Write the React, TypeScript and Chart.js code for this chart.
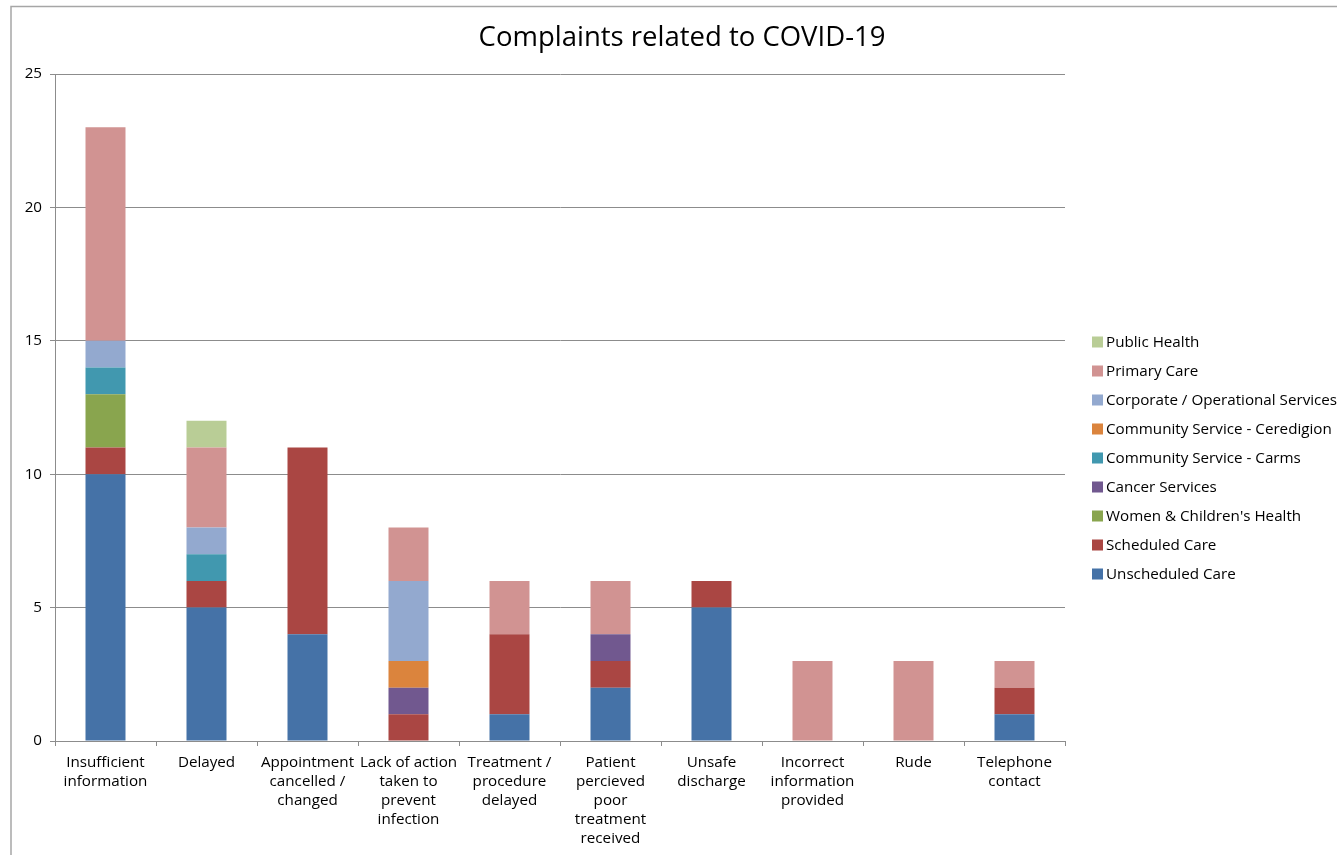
import { useEffect, useRef } from "react";
import { Chart, registerables } from "chart.js";

Chart.register(...registerables);

const categories: string[][] = [
  ["Insufficient", "information"],
  ["Delayed"],
  ["Appointment", "cancelled /", "changed"],
  ["Lack of action", "taken to", "prevent", "infection"],
  ["Treatment /", "procedure", "delayed"],
  ["Patient", "percieved", "poor", "treatment", "received"],
  ["Unsafe", "discharge"],
  ["Incorrect", "information", "provided"],
  ["Rude"],
  ["Telephone", "contact"],
];

const unscheduledCare = [10, 5, 4, 0, 1, 2, 5, 0, 0, 1];
const scheduledCare = [1, 1, 7, 1, 3, 1, 1, 0, 0, 1];
const womenChildrensHealth = [2, 0, 0, 0, 0, 0, 0, 0, 0, 0];
const cancerServices = [0, 0, 0, 1, 0, 1, 0, 0, 0, 0];
const communityCarms = [1, 1, 0, 0, 0, 0, 0, 0, 0, 0];
const communityCeredigion = [0, 0, 0, 1, 0, 0, 0, 0, 0, 0];
const corporateServices = [1, 1, 0, 3, 0, 0, 0, 0, 0, 0];
const primaryCare = [8, 3, 0, 2, 2, 2, 0, 3, 3, 1];
const publicHealth = [0, 1, 0, 0, 0, 0, 0, 0, 0, 0];

const yTicks = [0, 5, 10, 15, 20, 25];

const FONT = "'Open Sans', Lato, sans-serif";
const TITLE = "Complaints related to COVID-19";

const series = [
  { label: "Unscheduled Care", data: unscheduledCare, color: "#4572A7" },
  { label: "Scheduled Care", data: scheduledCare, color: "#AA4643" },
  { label: "Women & Children's Health", data: womenChildrensHealth, color: "#89A54E" },
  { label: "Cancer Services", data: cancerServices, color: "#71588F" },
  { label: "Community Service - Carms", data: communityCarms, color: "#4198AF" },
  { label: "Community Service - Ceredigion", data: communityCeredigion, color: "#DB843D" },
  { label: "Corporate / Operational Services", data: corporateServices, color: "#93A9CF" },
  { label: "Primary Care", data: primaryCare, color: "#D19392" },
  { label: "Public Health", data: publicHealth, color: "#B9CD96" },
];

// Frame lines, title and the right-hand legend.
const decorations = {
  id: "decorations",
  beforeDraw(chart: Chart) {
    const ctx = chart.ctx;
    ctx.save();
    ctx.fillStyle = "#ffffff";
    ctx.fillRect(0, 0, chart.width, chart.height);
    ctx.strokeStyle = "#a6a6a6";
    ctx.lineWidth = 1.5;
    ctx.beginPath();
    ctx.moveTo(11, chart.height);
    ctx.lineTo(11, 6.5);
    ctx.lineTo(chart.width, 6.5);
    ctx.stroke();
    ctx.restore();
  },
  afterDraw(chart: Chart) {
    const ctx = chart.ctx;
    ctx.save();
    ctx.fillStyle = "#000000";
    ctx.font = `27.5px ${FONT}`;
    ctx.textAlign = "center";
    ctx.textBaseline = "middle";
    ctx.fillText(TITLE, 682, 38);

    const ds = chart.data.datasets;
    ctx.font = `15.2px ${FONT}`;
    ctx.textAlign = "left";
    let y = 342;
    for (let i = ds.length - 1; i >= 0; i--) {
      ctx.fillStyle = ds[i].backgroundColor as string;
      ctx.fillRect(1092, y - 5.5, 11, 11);
      ctx.fillStyle = "#000000";
      ctx.fillText(ds[i].label as string, 1106, y + 1);
      y += 29;
    }
    ctx.restore();
  },
};

export default function App() {
  const ref = useRef<HTMLCanvasElement | null>(null);

  useEffect(() => {
    if (!ref.current) return;
    const chart = new Chart(ref.current, {
      type: "bar",
      data: {
        labels: categories,
        datasets: series.map((s) => ({
          label: s.label,
          data: s.data,
          backgroundColor: s.color,
          borderWidth: 0,
          barPercentage: 0.396,
          categoryPercentage: 1,
        })),
      },
      options: {
        animation: false,
        responsive: false,
        layout: { padding: { left: 11, top: 74, right: 272, bottom: 0 } },
        plugins: {
          legend: { display: false },
          title: { display: false },
          tooltip: { enabled: false },
        },
        scales: {
          x: {
            stacked: true,
            afterFit: (scale: any) => {
              scale.height = 114;
            },
            border: { color: "#8c8c8c", width: 1 },
            grid: {
              offset: true,
              drawOnChartArea: false,
              drawTicks: true,
              tickLength: 5,
              color: "#8c8c8c",
            },
            ticks: {
              color: "#000000",
              padding: 7,
              maxRotation: 0,
              autoSkip: false,
              font: { family: FONT, size: 15.2, lineHeight: 1.25 },
            },
          },
          y: {
            stacked: true,
            min: 0,
            max: 25,
            afterFit: (scale: any) => {
              scale.width = 44;
            },
            afterBuildTicks: (scale: any) => {
              scale.ticks = yTicks.map((v) => ({ value: v }));
            },
            border: { color: "#8c8c8c", width: 1 },
            grid: {
              color: "#8c8c8c",
              lineWidth: 1,
              tickLength: 5,
            },
            ticks: {
              color: "#000000",
              padding: 8,
              font: { family: FONT, size: 15.2 },
            },
          },
        },
      },
      plugins: [decorations],
    });
    return () => chart.destroy();
  }, []);

  return (
    <div style={{ position: "fixed", left: 0, top: 0, width: 1337, height: 855 }}>
      <canvas ref={ref} width={1337} height={855} style={{ display: "block" }} />
    </div>
  );
}
